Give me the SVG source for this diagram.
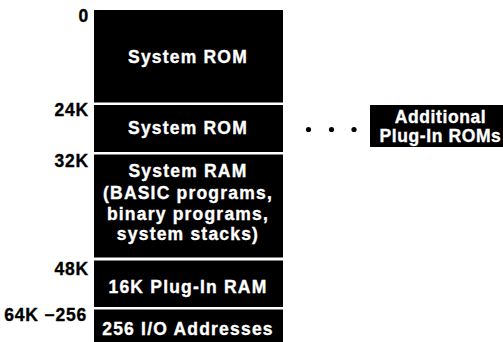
<svg xmlns="http://www.w3.org/2000/svg" width="503" height="342" viewBox="0 0 503 342">
  <style>
    .blk { fill: #000; }
    .lbl { font-family: "Liberation Sans", Arial, Helvetica, sans-serif; font-weight: bold; font-size: 17.5px; fill: #fff; stroke: #fff; stroke-width: 0.35px; text-anchor: middle; letter-spacing: 1.2px; }
    .addr { font-family: "Liberation Sans", Arial, Helvetica, sans-serif; font-weight: bold; font-size: 17.5px; fill: #000; stroke: #000; stroke-width: 0.35px; text-anchor: end; letter-spacing: 0.8px; }
    .dot { fill: #000; }
  </style>
  <rect width="503" height="342" fill="#fff"/>

  <!-- address labels on the left of the memory map -->
  <g id="addresses">
    <text class="addr" x="89" y="22">0</text>
    <text class="addr" x="89" y="116">24K</text>
    <text class="addr" x="89" y="166.5">32K</text>
    <text class="addr" x="89" y="275">48K</text>
    <text class="addr" x="87" y="321">64K −256</text>
  </g>

  <!-- memory regions, top to bottom -->
  <g id="system-rom-low">
    <rect class="blk" x="94" y="10" width="189" height="92.5"/>
    <text class="lbl" x="188" y="63">System ROM</text>
  </g>
  <g id="system-rom-high">
    <rect class="blk" x="94" y="105" width="189" height="47"/>
    <text class="lbl" x="188" y="134">System ROM</text>
  </g>
  <g id="system-ram">
    <rect class="blk" x="94" y="154.5" width="189" height="103"/>
    <text class="lbl" x="188" y="177">System RAM</text>
    <text class="lbl" x="188" y="198.5">(BASIC programs,</text>
    <text class="lbl" x="188" y="219.5">binary programs,</text>
    <text class="lbl" x="188" y="240">system stacks)</text>
  </g>
  <g id="plugin-ram">
    <rect class="blk" x="94" y="260.5" width="189" height="46.5"/>
    <text class="lbl" x="188" y="292.5">16K Plug-In RAM</text>
  </g>
  <g id="io-addresses">
    <rect class="blk" x="94" y="309.5" width="189" height="32.5"/>
    <text class="lbl" x="188" y="335">256 I/O Addresses</text>
  </g>

  <!-- ellipsis leading to the optional ROM bank -->
  <g id="connectors">
    <circle class="dot" cx="308.5" cy="129.5" r="2.6"/>
    <circle class="dot" cx="331.5" cy="129.5" r="2.6"/>
    <circle class="dot" cx="354" cy="129.5" r="2.6"/>
  </g>

  <g id="plugin-roms">
    <rect class="blk" x="370" y="105" width="133" height="42"/>
    <text class="lbl" x="440.5" y="123" style="letter-spacing:0.6px">Additional</text>
    <text class="lbl" x="440.5" y="141.5" style="letter-spacing:0.6px">Plug-In ROMs</text>
  </g>
</svg>
